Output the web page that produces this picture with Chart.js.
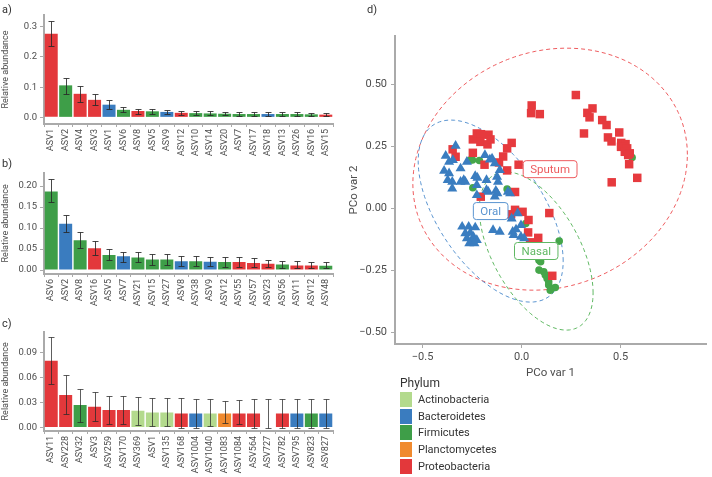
<!DOCTYPE html>
<html>
<head>
<meta charset="utf-8">
<script src="https://cdn.jsdelivr.net/npm/chart.js@4.4.1/dist/chart.umd.min.js"></script>
<style>
  body { margin: 0; background: #fff; }
  #page { position: relative; width: 712px; height: 477px; overflow: hidden; font-family: Roboto, sans-serif; color: #333; }
  canvas { position: absolute; }
  .tag { position: absolute; font-size: 11px; color: #333; }
  #legend { position: absolute; left: 400px; top: 376px; font-size: 11px; color: #333; }
  #legend .row { height: 16.8px; display: flex; align-items: center; }
  #legend .sw { width: 12px; height: 15px; margin-right: 6px; }
</style>
</head>
<body>
<div id="page">
  <canvas id="chartA" width="340" height="160" style="left:0;top:0"></canvas>
  <canvas id="chartB" width="340" height="150" style="left:0;top:160px"></canvas>
  <canvas id="chartC" width="340" height="166" style="left:0;top:310px"></canvas>
  <canvas id="chartD" width="372" height="390" style="left:340px;top:0"></canvas>
  <div class="tag" style="left:2px;top:3px">a)</div>
  <div class="tag" style="left:2px;top:157px">b)</div>
  <div class="tag" style="left:2px;top:317px">c)</div>
  <div class="tag" style="left:367px;top:3px">d)</div>
  <div id="legend"><div style="margin-bottom:1px;font-size:12px">Phylum</div></div>
</div>
<script>
// phyla
const phylumNames = ['Actinobacteria', 'Bacteroidetes', 'Firmicutes', 'Planctomycetes', 'Proteobacteria'];
const phylumColors = ['#b3da8d', '#3a7cbf', '#3e9e48', '#f08a2e', '#e3383b'];

// a) top ASVs
const asvA = ['ASV1','ASV2','ASV4','ASV3','ASV1','ASV6','ASV8','ASV5','ASV9','ASV12','ASV10','ASV14','ASV20','ASV7','ASV17','ASV18','ASV13','ASV26','ASV16','ASV15'];
const phylumA = ['Proteobacteria','Firmicutes','Proteobacteria','Proteobacteria','Bacteroidetes','Firmicutes','Proteobacteria','Firmicutes','Bacteroidetes','Proteobacteria','Firmicutes','Firmicutes','Firmicutes','Firmicutes','Firmicutes','Bacteroidetes','Firmicutes','Firmicutes','Firmicutes','Proteobacteria'];
const meanA = [0.277,0.106,0.078,0.058,0.042,0.025,0.021,0.020,0.018,0.015,0.014,0.013,0.012,0.011,0.011,0.011,0.011,0.011,0.010,0.009];
const lowA  = [0.237,0.079,0.052,0.040,0.028,0.017,0.012,0.012,0.010,0.009,0.008,0.008,0.007,0.006,0.006,0.006,0.006,0.006,0.005,0.004];
const highA = [0.320,0.132,0.103,0.076,0.057,0.035,0.029,0.028,0.025,0.022,0.020,0.020,0.018,0.017,0.017,0.017,0.017,0.017,0.014,0.013];
const ticksA = [0, 0.1, 0.2, 0.3];

// b)
const asvB = ['ASV6','ASV2','ASV8','ASV16','ASV5','ASV7','ASV21','ASV15','ASV27','ASV8','ASV38','ASV9','ASV12','ASV55','ASV57','ASV23','ASV56','ASV11','ASV12','ASV48'];
const phylumB = ['Firmicutes','Bacteroidetes','Firmicutes','Proteobacteria','Firmicutes','Bacteroidetes','Firmicutes','Firmicutes','Firmicutes','Bacteroidetes','Firmicutes','Bacteroidetes','Firmicutes','Proteobacteria','Proteobacteria','Proteobacteria','Firmicutes','Proteobacteria','Proteobacteria','Firmicutes'];
const meanB = [0.187,0.110,0.071,0.052,0.036,0.033,0.030,0.025,0.025,0.021,0.021,0.020,0.019,0.019,0.017,0.015,0.013,0.011,0.011,0.010];
const lowB  = [0.162,0.090,0.052,0.036,0.023,0.020,0.018,0.013,0.013,0.010,0.010,0.009,0.008,0.008,0.007,0.006,0.005,0.004,0.004,0.004];
const highB = [0.216,0.130,0.090,0.068,0.050,0.044,0.043,0.038,0.038,0.033,0.033,0.032,0.030,0.030,0.029,0.025,0.022,0.021,0.019,0.019];
const ticksB = [0, 0.05, 0.10, 0.15, 0.20];

// c)
const asvC = ['ASV11','ASV228','ASV32','ASV3','ASV259','ASV170','ASV369','ASV1','ASV135','ASV168','ASV1004','ASV1040','ASV1083','ASV1084','ASV564','ASV727','ASV782','ASV795','ASV823','ASV827'];
const phylumC = ['Proteobacteria','Proteobacteria','Firmicutes','Proteobacteria','Proteobacteria','Proteobacteria','Actinobacteria','Actinobacteria','Actinobacteria','Proteobacteria','Bacteroidetes','Actinobacteria','Planctomycetes','Proteobacteria','Proteobacteria',null,'Proteobacteria','Bacteroidetes','Firmicutes','Bacteroidetes'];
const meanC = [0.080,0.039,0.027,0.025,0.021,0.021,0.020,0.018,0.018,0.017,0.017,0.017,0.017,0.017,0.017,0.017,0.017,0.017,0.017,0.017];
const lowC  = [0.052,0.016,0.007,0.008,0.004,0.004,0.003,0.002,0.002,0.000,0.000,0.002,0.005,0.004,0.000,0.000,0.000,0.000,0.000,0.000];
const highC = [0.109,0.063,0.046,0.043,0.038,0.038,0.037,0.035,0.035,0.035,0.034,0.034,0.032,0.033,0.034,0.034,0.034,0.034,0.034,0.034];
const ticksC = [0, 0.03, 0.06, 0.09];

// d) PCoA
const sputumX = [0.274,0.051,0.048,0.092,0.332,0.358,0.343,0.407,0.429,0.315,0.436,0.454,0.493,0.503,0.525,0.502,0.533,0.521,0.546,0.538,0.543,0.584,0.455,
  -0.246,-0.226,-0.205,-0.167,-0.208,-0.172,-0.157,-0.348,-0.333,-0.246,-0.073,-0.050,-0.093,-0.114,-0.187,-0.073,-0.015,-0.033,-0.206,-0.033,0.005,0.140,-0.053,0.035,0.033,0.084,0.043,0.155];
const sputumY = [0.456,0.414,0.383,0.379,0.384,0.402,0.366,0.355,0.335,0.301,0.285,0.269,0.305,0.263,0.258,0.247,0.241,0.227,0.221,0.214,0.177,0.122,0.104,
  0.277,0.301,0.298,0.296,0.267,0.257,0.277,0.237,0.207,0.223,0.241,0.263,0.208,0.184,0.175,0.152,0.175,0.065,0.046,-0.007,-0.015,-0.020,-0.025,-0.048,-0.098,-0.120,-0.138,-0.273];
const oralX = [-0.333,-0.383,-0.366,-0.347,-0.276,-0.391,-0.366,-0.350,-0.373,-0.308,-0.292,-0.308,-0.284,-0.350,-0.234,-0.223,-0.226,-0.185,-0.160,-0.149,-0.135,-0.110,-0.124,-0.119,-0.130,-0.122,-0.177,-0.177,-0.168,-0.135,-0.069,-0.058,
  -0.300,-0.267,-0.234,-0.284,-0.259,-0.243,-0.276,-0.251,-0.226,-0.264,-0.238,-0.144,-0.110,-0.045,-0.028,-0.050,-0.003,0.013,-0.226,-0.020,-0.040,-0.003];
const oralY = [0.251,0.211,0.187,0.194,0.187,0.150,0.140,0.106,0.113,0.160,0.113,0.106,0.106,0.079,0.129,0.122,0.093,0.214,0.196,0.200,0.180,0.153,0.126,0.106,0.070,0.059,0.113,0.073,0.066,0.046,0.066,0.059,
  -0.075,-0.075,-0.078,-0.102,-0.100,-0.116,-0.122,-0.136,-0.129,-0.142,-0.142,-0.089,-0.096,-0.096,-0.086,-0.042,-0.069,-0.122,0.052,-0.021,-0.109,-0.116];
const nasalX = [-0.259,-0.248,-0.213,-0.246,-0.073,-0.058,0.558,0.021,0.190,0.088,0.088,0.096,0.088,0.112,0.120,0.129,0.137,0.137,0.149,0.170,0.145];
const nasalY = [0.194,0.194,0.192,0.082,0.077,0.067,0.204,-0.062,-0.133,-0.196,-0.210,-0.216,-0.250,-0.257,-0.270,-0.284,-0.297,-0.310,-0.324,-0.320,-0.331];
const ticksDx = [-0.5, 0, 0.5];
const ticksDy = [-0.5, -0.25, 0, 0.25, 0.5];

// 95% ellipses: centre, spread and correlation, data units
const groupNames = ['Sputum', 'Oral', 'Nasal'];
const ellipseCx = [0.144, -0.156, 0.074];
const ellipseCy = [0.157, -0.012, -0.173];
const ellipseSx = [0.693, 0.366, 0.287];
const ellipseSy = [0.488, 0.367, 0.319];
const ellipseR  = [0.121, -0.55, -0.53];

const groupColors = ['#e63a3e', '#3a7dc0', '#45a64a'];
const groupLineColors = ['#ee5b5e', '#5a94d0', '#5fb862'];

const FONT = 'Roboto, sans-serif';
const AXIS = '#aaaaaa';
const TXT = '#4d4d4d';

Chart.defaults.font.family = FONT;
Chart.defaults.color = TXT;

function colorOf(p) {
  const i = phylumNames.indexOf(p);
  return i < 0 ? 'rgba(0,0,0,0)' : phylumColors[i];
}

const errorBars = {
  id: 'errorBars',
  afterDatasetsDraw(chart) {
    const ds = chart.data.datasets[0];
    const meta = chart.getDatasetMeta(0);
    const y = chart.scales.y;
    const ctx = chart.ctx;
    ctx.save();
    ctx.strokeStyle = ds.errColor;
    ctx.lineWidth = 1;
    meta.data.forEach((bar, i) => {
      const y1 = Math.round(y.getPixelForValue(ds.errLow[i])) + 0.5;
      const y2 = Math.round(y.getPixelForValue(ds.errHigh[i])) + 0.5;
      const x = Math.round(bar.x) + 0.5;
      ctx.beginPath();
      ctx.moveTo(x, y1); ctx.lineTo(x, y2);
      ctx.moveTo(x - 3, y1); ctx.lineTo(x + 3, y1);
      ctx.moveTo(x - 3, y2); ctx.lineTo(x + 3, y2);
      ctx.stroke();
    });
    ctx.restore();
  }
};

function barPanel(id, labels, means, lows, highs, phyla, yMin, yMax, ticks, digits, padTop, xHeight, errColor) {
  new Chart(document.getElementById(id), {
    type: 'bar',
    data: {
      labels: labels,
      datasets: [{
        data: means,
        backgroundColor: phyla.map(colorOf),
        borderWidth: 0,
        barPercentage: 0.9,
        categoryPercentage: 1,
        errLow: lows,
        errHigh: highs,
        errColor: errColor
      }]
    },
    options: {
      responsive: false,
      animation: false,
      events: [],
      layout: { padding: { top: padTop, right: 7, left: 0, bottom: 0 } },
      plugins: { legend: { display: false }, tooltip: { enabled: false } },
      scales: {
        x: {
          grid: { display: true, drawOnChartArea: false, tickLength: 3, color: AXIS },
          border: { display: true, color: AXIS, width: 2 },
          ticks: { autoSkip: false, minRotation: 90, maxRotation: 90, padding: 2, font: { size: 9 }, color: TXT },
          afterFit: s => { s.height = xHeight; s.paddingLeft = 0; s.paddingRight = 0; }
        },
        y: {
          min: yMin, max: yMax,
          grid: { display: true, drawOnChartArea: false, tickLength: 4, color: AXIS },
          border: { display: true, color: AXIS, width: 2 },
          ticks: { padding: 3, font: { size: 9.5 }, color: TXT, callback: v => v.toFixed(digits) },
          afterBuildTicks: s => { s.ticks = ticks.map(v => ({ value: v })); },
          title: { display: true, text: 'Relative abundance', font: { size: 9 }, color: TXT, padding: { top: 0, bottom: 0 } },
          afterFit: s => { s.width = 44; s.paddingTop = 0; s.paddingBottom = 0; }
        }
      }
    },
    plugins: [errorBars]
  });
}

barPanel('chartA', asvA, meanA, lowA, highA, phylumA, -0.022, 0.339, ticksA, 1, 15, 36, 'rgba(40,40,40,0.85)');
barPanel('chartB', asvB, meanB, lowB, highB, phylumB, -0.0095, 0.232, ticksB, 2, 12.7, 36, 'rgba(40,40,40,0.85)');
barPanel('chartC', asvC, meanC, lowC, highC, phylumC, -0.0041, 0.1148, ticksC, 2, 21.7, 45, 'rgba(40,40,40,0.75)');

// ellipses under points, labels over them
const groupEllipses = {
  id: 'groupEllipses',
  beforeDatasetsDraw(chart) {
    const { ctx, scales: { x, y } } = chart;
    ctx.save();
    ctx.lineWidth = 1;
    ctx.setLineDash([4, 3]);
    groupNames.forEach((g, k) => {
      const r = ellipseR[k], q = Math.sqrt(1 - r * r);
      ctx.strokeStyle = groupLineColors[k];
      ctx.beginPath();
      for (let s = 0; s <= 120; s++) {
        const t = s / 120 * Math.PI * 2;
        const dx = ellipseSx[k] * Math.cos(t);
        const dy = ellipseSy[k] * (r * Math.cos(t) + q * Math.sin(t));
        const px = x.getPixelForValue(ellipseCx[k] + dx);
        const py = y.getPixelForValue(ellipseCy[k] + dy);
        if (s === 0) ctx.moveTo(px, py); else ctx.lineTo(px, py);
      }
      ctx.closePath();
      ctx.stroke();
    });
    ctx.restore();
  },
  afterDatasetsDraw(chart) {
    const { ctx, scales: { x, y } } = chart;
    ctx.save();
    ctx.font = '11.5px ' + FONT;
    ctx.textAlign = 'center';
    ctx.textBaseline = 'middle';
    groupNames.forEach((g, k) => {
      const cx = x.getPixelForValue(ellipseCx[k]);
      const cy = y.getPixelForValue(ellipseCy[k]);
      const w = ctx.measureText(g).width + 14, h = 17;
      ctx.beginPath();
      ctx.roundRect(cx - w / 2, cy - h / 2, w, h, 3);
      ctx.fillStyle = '#fff';
      ctx.fill();
      ctx.lineWidth = 1;
      ctx.strokeStyle = groupLineColors[k];
      ctx.stroke();
      ctx.fillStyle = groupLineColors[k];
      ctx.fillText(g, cx, cy + 1);
    });
    ctx.restore();
  }
};

function pairs(xs, ys) { return xs.map((v, i) => ({ x: v, y: ys[i] })); }
const fmt = (v, d) => (v < 0 ? '\u2212' : '') + Math.abs(v).toFixed(d);

new Chart(document.getElementById('chartD'), {
  type: 'scatter',
  data: {
    datasets: [
      { label: 'Oral', data: pairs(oralX, oralY), pointStyle: 'triangle', pointRadius: 5.8, backgroundColor: groupColors[1], borderWidth: 0 },
      { label: 'Sputum', data: pairs(sputumX, sputumY), pointStyle: 'rect', pointRadius: 6, backgroundColor: groupColors[0], borderWidth: 0 },
      { label: 'Nasal', data: pairs(nasalX, nasalY), pointStyle: 'circle', pointRadius: 3.8, backgroundColor: groupColors[2], borderWidth: 0 }
    ]
  },
  options: {
    responsive: false,
    animation: false,
    events: [],
    layout: { padding: { top: 36, right: 0, left: 0, bottom: 0 } },
    plugins: { legend: { display: false }, tooltip: { enabled: false } },
    scales: {
      x: {
        type: 'linear', min: -0.639, max: 0.931,
        grid: { display: true, drawOnChartArea: false, tickLength: 4, color: AXIS },
        border: { display: true, color: AXIS, width: 2 },
        ticks: { padding: 3, font: { size: 11 }, color: TXT, callback: v => fmt(v, 1) },
        afterBuildTicks: s => { s.ticks = ticksDx.map(v => ({ value: v })); },
        title: { display: true, text: 'PCo var 1', font: { size: 11.5 }, color: TXT, padding: { top: 0, bottom: 10 } },
        afterFit: s => { s.height = 46; s.paddingLeft = 0; s.paddingRight = 0; }
      },
      y: {
        type: 'linear', min: -0.548, max: 0.694,
        grid: { display: true, drawOnChartArea: false, tickLength: 4, color: AXIS },
        border: { display: true, color: AXIS, width: 2 },
        ticks: { padding: 4, font: { size: 11 }, color: TXT, callback: v => fmt(v, 2) },
        afterBuildTicks: s => { s.ticks = ticksDy.map(v => ({ value: v })); },
        title: { display: true, text: 'PCo var 2', font: { size: 11.5 }, color: TXT, padding: { top: 7, bottom: 0 } },
        afterFit: s => { s.width = 55; s.paddingTop = 0; s.paddingBottom = 0; }
      }
    }
  },
  plugins: [groupEllipses]
});

// phylum legend
const legend = document.getElementById('legend');
phylumNames.forEach((name, i) => {
  const row = document.createElement('div');
  row.className = 'row';
  const sw = document.createElement('div');
  sw.className = 'sw';
  sw.style.background = phylumColors[i];
  row.appendChild(sw);
  row.appendChild(document.createTextNode(name));
  legend.appendChild(row);
});
</script>
</body>
</html>
